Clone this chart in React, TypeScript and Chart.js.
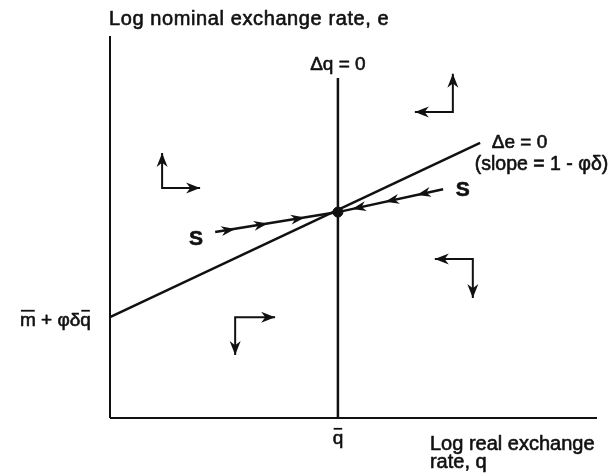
import React, { useEffect, useRef } from "react";
import { Chart, registerables } from "chart.js";

Chart.register(...registerables);

// Model coordinates (0..100 on each axis)
const qBar = 46.8;
const eqE = 53.9;
const axisY: [number, number][] = [[0, 0], [0, 100]];
const axisX: [number, number][] = [[0, 0], [100, 0]];
const dqZero: [number, number][] = [[qBar, 0], [qBar, 89.0]];
const deZero: [number, number][] = [[0, 26.4], [76.0, 72.0]];
const saddleLeft: [number, number][] = [[21.6, 48.7], [qBar, eqE]];
const saddleRight: [number, number][] = [[68.4, 59.9], [qBar, eqE]];
const equilibrium: [number, number][] = [[qBar, eqE]];
// direction arrows: tip1 - corner - tip2
const arrowTopLeft: [number, number][] = [[10.7, 69.4], [10.7, 60.2], [18.5, 60.2]];
const arrowTopRight: [number, number][] = [[70.4, 90.1], [70.4, 80.1], [62.6, 80.1]];
const arrowBottomRight: [number, number][] = [[66.7, 41.6], [74.5, 41.6], [74.5, 31.4]];
const arrowBottomLeft: [number, number][] = [[33.9, 26.4], [25.7, 26.4], [25.7, 16.5]];
// arrowheads along the saddle paths (tip positions)
const saddleHeadsLeft: [number, number][] = [[25.7, 49.5], [32.4, 50.9], [40.0, 52.5]];
const saddleHeadsRight: [number, number][] = [[63.0, 58.4], [56.5, 56.6], [49.7, 54.7]];

type Label = { text: string; x: number; y: number; align: CanvasTextAlign; size: number; bold?: boolean; spacing?: number; bars?: number[] };
const labels: Label[] = [
  { text: "Log nominal exchange rate, e", x: -0.2, y: 102.9, align: "left", size: 20, spacing: 0.6 },
  { text: "Δq = 0", x: qBar, y: 91.1, align: "center", size: 19 },
  { text: "Δe = 0", x: 78.4, y: 70.7, align: "left", size: 19 },
  { text: "(slope = 1 - φδ)", x: 74.9, y: 64.9, align: "left", size: 19.5 },
  { text: "S", x: 71.0, y: 58.1, align: "left", size: 21, bold: true },
  { text: "S", x: 16.2, y: 45.3, align: "left", size: 21, bold: true },
  { text: "m + φδq", x: -18.5, y: 24.1, align: "left", size: 19, bars: [0, 6] },
  { text: "q", x: qBar, y: -6.8, align: "center", size: 19, bars: [0] },
  { text: "Log real exchange", x: 65.7, y: -8.4, align: "left", size: 20 },
  { text: "rate, q", x: 65.7, y: -13.1, align: "left", size: 20 },
];

const INK = "#111111";
const FONT = '"Liberation Sans", Arial, sans-serif';

function drawHead(ctx: CanvasRenderingContext2D, tx: number, ty: number, fx: number, fy: number, len: number, half: number) {
  const ang = Math.atan2(ty - fy, tx - fx);
  ctx.save();
  ctx.translate(tx, ty);
  ctx.rotate(ang);
  ctx.beginPath();
  ctx.moveTo(0, 0);
  ctx.lineTo(-len, -half);
  ctx.lineTo(-len * 0.7, 0);
  ctx.lineTo(-len, half);
  ctx.closePath();
  ctx.fillStyle = INK;
  ctx.fill();
  ctx.restore();
}

const overlayPlugin = {
  id: "overlay",
  afterDatasetsDraw(chart: any) {
    const ctx: CanvasRenderingContext2D = chart.ctx;
    const xs = chart.scales.x;
    const ys = chart.scales.y;
    const px = (v: number) => xs.getPixelForValue(v);
    const py = (v: number) => ys.getPixelForValue(v);
    [arrowTopLeft, arrowTopRight, arrowBottomRight, arrowBottomLeft].forEach((a) => {
      drawHead(ctx, px(a[0][0]), py(a[0][1]), px(a[1][0]), py(a[1][1]), 14, 5.5);
      drawHead(ctx, px(a[2][0]), py(a[2][1]), px(a[1][0]), py(a[1][1]), 14, 5.5);
    });
    const ex = px(qBar), ey = py(eqE);
    [...saddleHeadsLeft, ...saddleHeadsRight].forEach((p) => {
      const tx = px(p[0]), ty = py(p[1]);
      const dx = ex - tx, dy = ey - ty;
      drawHead(ctx, tx, ty, tx - dx, ty - dy, 14, 5);
    });
    ctx.save();
    ctx.fillStyle = INK;
    ctx.strokeStyle = INK;
    ctx.textBaseline = "alphabetic";
    ctx.lineJoin = "round";
    labels.forEach((l) => {
      ctx.font = `${l.bold ? "bold " : ""}${l.size}px ${FONT}`;
      (ctx as any).letterSpacing = `${l.spacing || 0}px`;
      ctx.textAlign = l.align;
      const x = px(l.x), y = py(l.y);
      ctx.fillText(l.text, x, y);
      ctx.lineWidth = 0.6;
      ctx.strokeText(l.text, x, y);
      if (l.bars) {
        const w = ctx.measureText(l.text).width;
        const left = l.align === "center" ? x - w / 2 : l.align === "right" ? x - w : x;
        l.bars.forEach((i) => {
          const a = ctx.measureText(l.text.slice(0, i)).width;
          const b = ctx.measureText(l.text.slice(0, i + 1)).width;
          ctx.lineWidth = 1.8;
          ctx.beginPath();
          ctx.moveTo(left + a + 1, y - l.size * 0.8);
          ctx.lineTo(left + b - 1, y - l.size * 0.8);
          ctx.stroke();
        });
      }
    });
    (ctx as any).letterSpacing = "0px";
    ctx.restore();
  },
};

function lineDs(data: [number, number][], width: number) {
  return {
    data: data.map(([x, y]) => ({ x, y })),
    showLine: true,
    borderColor: INK,
    borderWidth: width,
    pointRadius: 0,
    fill: false,
    clip: false,
    tension: 0,
  };
}

export default function App() {
  const ref = useRef<HTMLCanvasElement>(null);
  useEffect(() => {
    if (!ref.current) return;
    const chart = new Chart(ref.current, {
      type: "scatter",
      data: {
        datasets: [
          lineDs(axisY, 2),
          lineDs(axisX, 2),
          lineDs(dqZero, 2.5),
          lineDs(deZero, 2.5),
          lineDs(saddleLeft, 2.5),
          lineDs(saddleRight, 2.5),
          lineDs(arrowTopLeft, 2),
          lineDs(arrowTopRight, 2),
          lineDs(arrowBottomRight, 2),
          lineDs(arrowBottomLeft, 2),
          {
            data: equilibrium.map(([x, y]) => ({ x, y })),
            pointRadius: 5,
            backgroundColor: INK,
            borderColor: INK,
            clip: false,
          } as any,
        ],
      },
      options: {
        responsive: false,
        animation: false,
        layout: { padding: { left: 110, right: 13, top: 36, bottom: 56 } },
        scales: {
          x: { type: "linear", min: 0, max: 100, display: false },
          y: { type: "linear", min: 0, max: 100, display: false },
        },
        plugins: { legend: { display: false }, tooltip: { enabled: false } },
      },
      plugins: [overlayPlugin],
    });
    return () => chart.destroy();
  }, []);
  return (
    <div style={{ position: "fixed", left: 0, top: 0, width: 610, height: 474, background: "#fff" }}>
      <canvas ref={ref} width={610} height={474} />
    </div>
  );
}
